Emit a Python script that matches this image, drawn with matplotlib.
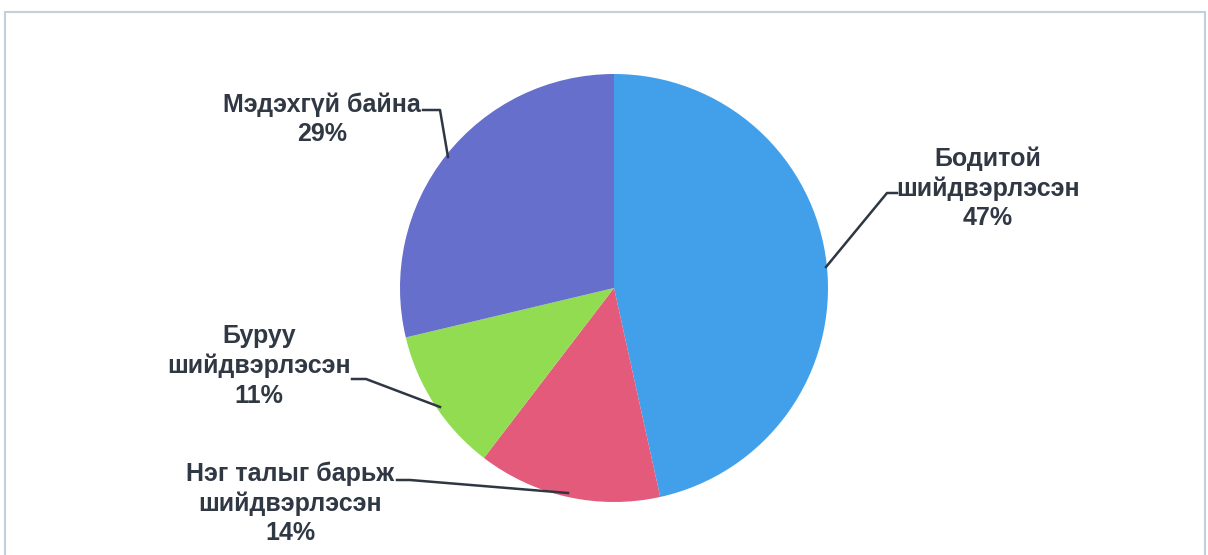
import matplotlib.pyplot as plt
from matplotlib.patches import Rectangle

plt.rcParams['font.family'] = ['Liberation Sans', 'DejaVu Sans']

labels = ['Бодитой\nшийдвэрлэсэн', 'Нэг талыг барьж\nшийдвэрлэсэн',
          'Буруу\nшийдвэрлэсэн', 'Мэдэхгүй байна']
values = [47, 14, 11, 29]
colors = ['#42a0ea', '#e35a7a', '#92dc52', '#676fcd']

W, H = 1208, 555
fig = plt.figure(figsize=(W / 100, H / 100), dpi=100)
ax = fig.add_axes([0, 0, 1, 1])

# chart frame
ax.add_patch(Rectangle((5, -10), W - 8, H - 12 + 10, fill=False,
                       edgecolor='#c4cfdc', linewidth=1.5))

cx, cy, r = 614, H - 288, 214
ax.pie(values, colors=colors, startangle=90, counterclock=False,
       center=(cx, cy), radius=r, frame=True)
ax.set_xlim(0, W)
ax.set_ylim(0, H)
ax.set_aspect('equal')
ax.axis('off')

txt = dict(fontsize=18, fontweight='bold', color='#303844',
           ha='center', va='center', linespacing=1.28)
line = dict(color='#2e3742', linewidth=1.8)

# label text positions and leader lines (in pixel coords, y from top)
label_pos = [(988, 188), (290, 503), (259, 366), (322, 119)]
leaders = [
    [(897, 193), (887, 193), (826, 267)],
    [(397, 480), (410, 480), (568, 493)],
    [(352, 379), (366, 379), (440, 407)],
    [(423, 110), (440, 110), (448, 157)],
]

for lab, v, (x, y), pts in zip(labels, values, label_pos, leaders):
    ax.text(x, H - y, f'{lab}\n{v}%', **txt)
    ax.plot([p[0] for p in pts], [H - p[1] for p in pts], **line)

fig.savefig('out.png', dpi=100)
